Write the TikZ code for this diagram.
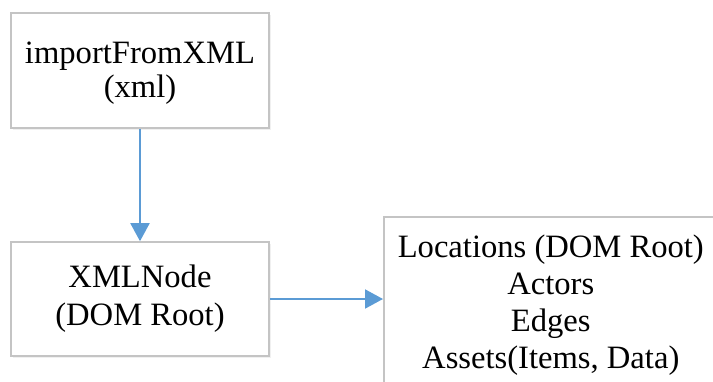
\documentclass[tikz,border=0pt]{standalone}
\usepackage{fontspec}
\setmainfont{Liberation Serif}
\usetikzlibrary{arrows.meta,shadows}
\definecolor{boxline}{HTML}{C4C4C4}
\definecolor{flow}{HTML}{5B9BD5}
\begin{document}
\begin{tikzpicture}[x=0.5pt,y=-0.5pt,
  box/.style={draw=boxline,line width=0.8pt,fill=white,rectangle,align=center,
    font=\fontsize{16.3}{18}\selectfont,inner sep=0pt,
    drop shadow={opacity=0.12,shadow xshift=1pt,shadow yshift=-1.2pt}},
  flowline/.style={draw=flow,line width=1pt,-{Triangle[length=9pt,width=9.5pt]}}]
  \useasboundingbox (0,0) rectangle (713,381);
  \clip (0,0) rectangle (713,381);
  % source call
  \node[box,minimum width=129pt,minimum height=57.5pt] (imp) at (140,70.5) {};
  \node[align=center,font=\fontsize{16.3}{18}\selectfont,inner sep=0pt] (imptext)
    at (140,73) {importFromXML\\[-1pt](xml)};
  % parsed tree root
  \node[box,minimum width=129pt,minimum height=57pt] (dom) at (140,299)
    {XMLNode\\[1pt](DOM Root)};
  % contents of the tree
  \node[box,anchor=north west,minimum width=167pt,minimum height=88pt,
    font=\fontsize{16.3}{18.5}\selectfont] (parts) at (383,216)
    {Locations (DOM Root)\\Actors\\Edges\\Assets(Items, Data)};
  \draw[flowline] (imp) -- (dom);
  \draw[flowline] (dom.east) -- (dom.east -| parts.west);
\end{tikzpicture}
\end{document}
